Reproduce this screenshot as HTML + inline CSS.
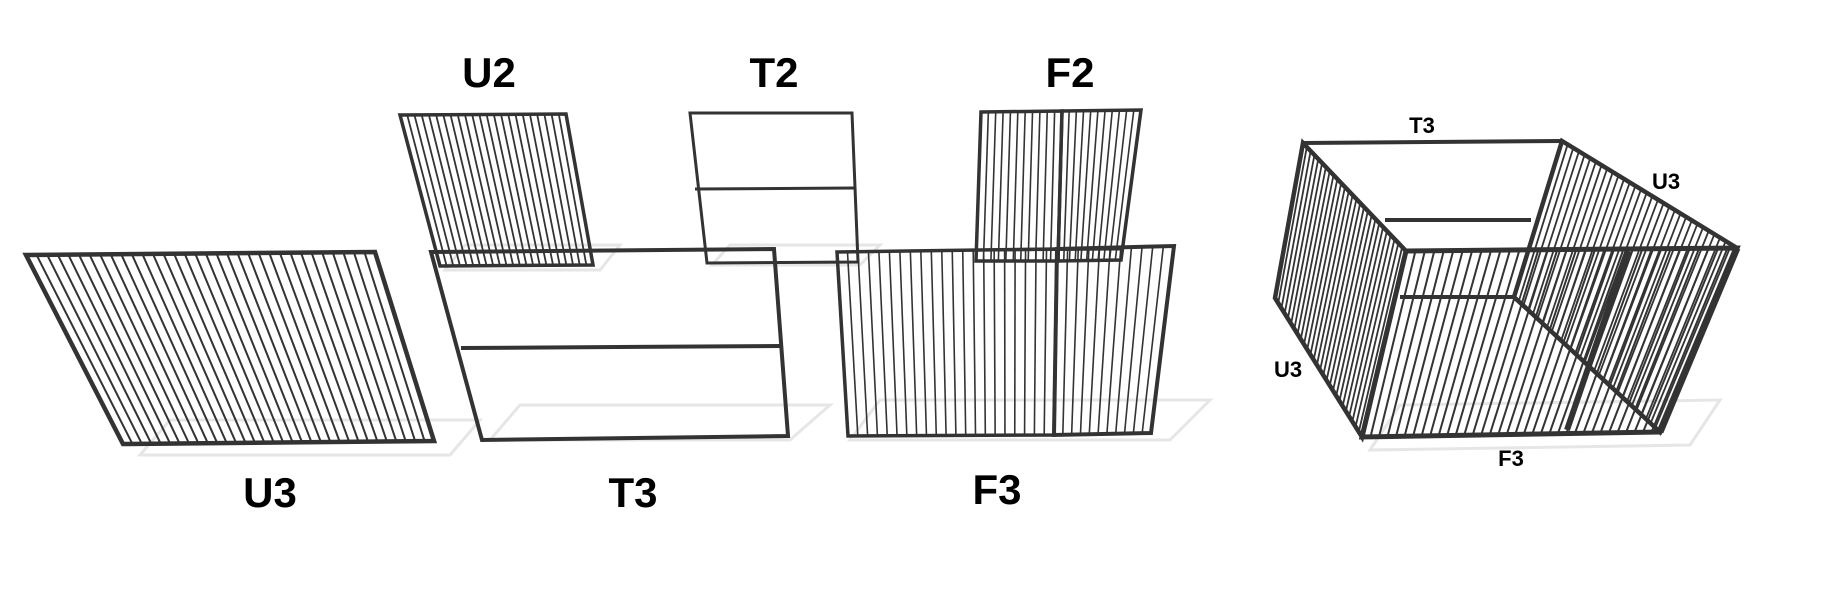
<!DOCTYPE html>
<html><head><meta charset="utf-8">
<style>
html,body{margin:0;padding:0;background:#fff;}
svg{display:block;}
text{font-family:"Liberation Sans Narrow","Liberation Sans",sans-serif;font-weight:bold;fill:#000;text-anchor:middle;}
</style></head>
<body>
<svg id="s" width="1838" height="596" viewBox="0 0 1838 596" xmlns="http://www.w3.org/2000/svg">
<g id="shadow" fill="none" stroke="#e6e6e6" stroke-width="3">
<polygon points="140,455 450,455 480,420 170,420"/>
<polygon points="490,440 790,440 830,405 520,405"/>
<polygon points="850,440 1170,440 1210,400 880,400"/>
<polygon points="1370,450 1690,445 1720,400 1400,405"/>
<polygon points="445,270 600,270 620,245 465,245"/>
<polygon points="712,265 860,265 880,245 730,245"/>
</g>
<g id="g" stroke="#333" fill="none"></g>
<text x="270" y="507" font-size="42">U3</text>
<text x="633" y="507" font-size="42">T3</text>
<text x="997" y="504" font-size="42">F3</text>
<text x="489" y="87" font-size="42">U2</text>
<text x="774" y="87" font-size="42">T2</text>
<text x="1070" y="87" font-size="42">F2</text>
<text x="1422" y="133" font-size="22">T3</text>
<text x="1666" y="189" font-size="22">U3</text>
<text x="1288" y="377" font-size="22">U3</text>
<text x="1511" y="466" font-size="22">F3</text>
</svg>
<script>
var g=document.getElementById('g'),NS='http://www.w3.org/2000/svg';
function ln(a,b,w){var l=document.createElementNS(NS,'line');l.setAttribute('x1',a[0]);l.setAttribute('y1',a[1]);l.setAttribute('x2',b[0]);l.setAttribute('y2',b[1]);l.setAttribute('stroke-width',w);g.appendChild(l);}
function L(a,b,t){return [a[0]+(b[0]-a[0])*t,a[1]+(b[1]-a[1])*t];}
function panel(TL,TR,BR,BL,n,fw,bw){
 for(var i=1;i<=n;i++){var t=i/(n+1);ln(L(TL,TR,t),L(BL,BR,t),bw);}
 var p=document.createElementNS(NS,'polygon');p.setAttribute('points',[TL,TR,BR,BL].map(function(q){return q.join(',')}).join(' '));p.setAttribute('stroke-width',fw);p.setAttribute('stroke-linejoin','miter');g.appendChild(p);
}
panel([26,255],[375,252],[434,441],[123,444],32,4.5,2);
panel([400,115],[566,114],[593,265],[440,266],22,3.5,1.8);
panel([690,113],[852,113],[858,262],[707,263],0,3,1);
ln([695,189],[855,188],3);
panel([431,252],[774,249],[788,436],[482,440],0,4,1);
ln([461,348],[780,346],4);
panel([981,112],[1062,111],[1058,261],[976,261],10,3.5,1.6);
panel([1062,111],[1141,110],[1121,260],[1058,261],10,3.5,1.6);
ln([978,250],[1120,249],3);
panel([837,252],[1057,249],[1054,435],[848,436],20,3.5,1.6);
panel([1057,249],[1174,246],[1151,433],[1054,435],10,4,1.6);
panel([1303,143],[1406,251],[1362,437],[1275,298],26,4.5,1.8);
panel([1562,141],[1737,248],[1660,432],[1514,297],30,4.5,1.8);
panel([1406,251],[1737,248],[1660,432],[1362,437],34,5,2);
ln([1303,143],[1562,141],4);
ln([1385,220],[1531,220],4);
ln([1400,297],[1514,297],4);
ln([1628,251],[1567,430],6);
ln([1737,248],[1660,432],7);
</script>
</body></html>
